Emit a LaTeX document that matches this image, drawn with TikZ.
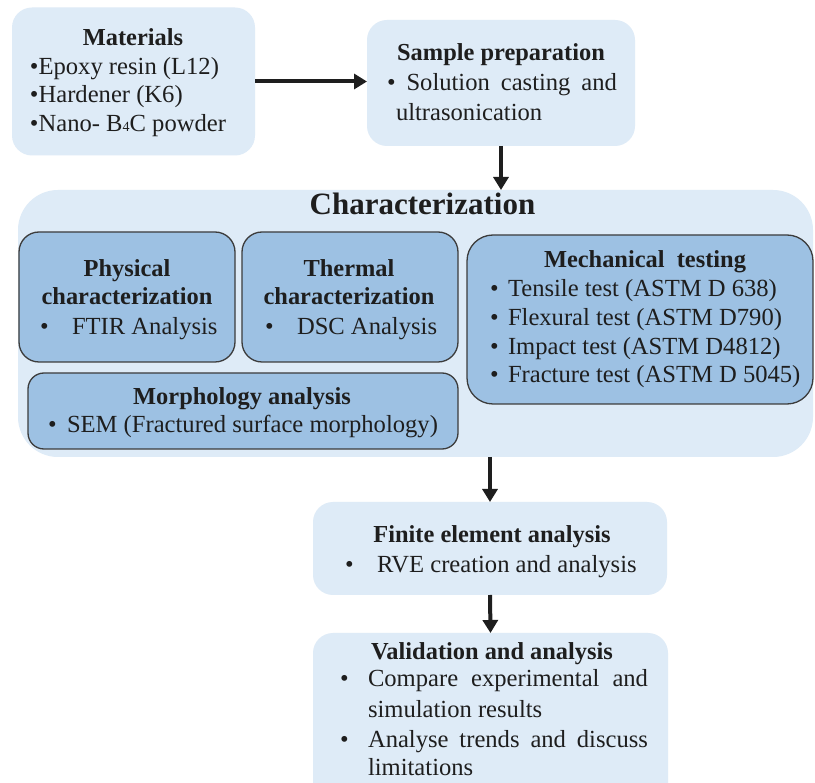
\documentclass[tikz,border=0pt]{standalone}
\usepackage{fontspec}
\setmainfont{Liberation Serif}
\usetikzlibrary{arrows.meta}
\definecolor{lightbox}{HTML}{DEEBF7}
\definecolor{midbox}{HTML}{9DC1E3}
\definecolor{edgegray}{HTML}{3C3C3C}
\definecolor{ink}{HTML}{1E1E1E}
\tikzset{
  outerbox/.style={fill=lightbox, draw=none, rounded corners=20pt, inner sep=0pt, outer sep=0pt},
  innerbox/.style={fill=midbox, draw=edgegray, line width=1.3pt, rounded corners=20pt, inner sep=0pt, outer sep=0pt},
  txt/.style={inner sep=0pt, outer sep=0pt, text=ink, font=\fontsize{24.6}{28}\selectfont, anchor=base west},
  ttl/.style={inner sep=0pt, outer sep=0pt, text=ink, font=\fontsize{24.4}{28}\selectfont\bfseries, anchor=base},
  flow/.style={line width=4pt, draw=ink, -{Triangle[length=13pt,width=15pt]}}
}
\begin{document}
\begin{tikzpicture}[x=1pt,y=-1pt]
\clip (0,0) rectangle (815,783);
\fill[white] (0,0) rectangle (815,783);

% boxes
\node[outerbox, minimum width=243pt, minimum height=148pt] (mat) at (133.5,81.5) {};
\node[outerbox, minimum width=268pt, minimum height=126pt] (sp) at (501,83) {};
\node[outerbox, rounded corners=40pt, minimum width=795pt, minimum height=267pt] (ch) at (415.5,323.5) {};
\node[innerbox, minimum width=216pt, minimum height=130pt] (phy) at (127,297) {};
\node[innerbox, minimum width=216pt, minimum height=130pt] (the) at (350,297) {};
\node[innerbox, rounded corners=26pt, minimum width=346pt, minimum height=169pt] (mech) at (640,319.5) {};
\node[innerbox, rounded corners=16pt, minimum width=430pt, minimum height=76pt] (mor) at (243,411) {};
\node[outerbox, minimum width=354pt, minimum height=93pt] (fea) at (490,548.5) {};
\node[outerbox, minimum width=355pt, minimum height=170pt] (val) at (490.5,718) {};

% connectors
\draw[flow] (mat.east) -- (mat.east -| sp.west);
\draw[flow] (sp.south) -- (sp.south |- ch.north);
\draw[flow] (fea.north |- ch.south) -- (fea.north);
\draw[flow] (fea.south) -- (val.north);

% Materials
\node[ttl] (matT) at (133,46) {Materials};
\node[txt] (mat1) at (30,75) {•Epoxy resin (L12)};
\node[txt] (mat2) at (30,103) {•Hardener (K6)};
\node[txt] (mat3) at (30,132) {•Nano- B{\fontsize{14}{14}\selectfont 4}C powder};

% Sample preparation
\node[ttl] (spT) at (501,61) {Sample preparation};
\node[txt] (sp1) at (387,91) {\makebox[230pt][s]{• Solution casting and}};
\node[txt] (sp2) at (396,121) {ultrasonication};

% Characterization
\node[ttl, font=\fontsize{31}{31}\selectfont\bfseries] (chT) at (422.5,215) {Characterization};

\node[ttl] (phyT1) at (127,277) {Physical};
\node[ttl] (phyT2) at (127,305) {characterization};
\node[txt] (phyB) at (40,335) {•};
\node[txt] (phy1) at (72,335) {FTIR Analysis};

\node[ttl] (theT1) at (349,277) {Thermal};
\node[ttl] (theT2) at (349,305) {characterization};
\node[txt] (theB) at (265,335) {•};
\node[txt] (the1) at (297,335) {DSC Analysis};

\node[ttl] (mechT) at (645,268) {Mechanical\ \ testing};
\node[txt] (mb1) at (490,297) {•};
\node[txt] (m1) at (508,297) {Tensile test (ASTM D 638)};
\node[txt] (mb2) at (490,326) {•};
\node[txt] (m2) at (508,326) {Flexural test (ASTM D790)};
\node[txt] (mb3) at (490,355) {•};
\node[txt] (m3) at (508,355) {Impact test (ASTM D4812)};
\node[txt] (mb4) at (490,383) {•};
\node[txt] (m4) at (508,383) {Fracture test (ASTM D 5045)};

\node[ttl] (morT) at (242,405) {Morphology analysis};
\node[txt] (morB) at (48,433) {•};
\node[txt] (mor1) at (67,433) {SEM (Fractured surface morphology)};

% Finite element analysis
\node[ttl] (feaT) at (492,543) {Finite element analysis};
\node[txt] (feaB) at (345,573) {•};
\node[txt] (fea1) at (377,573) {RVE creation and analysis};

% Validation
\node[ttl] (valT) at (492,660) {Validation and analysis};
\node[txt] (vb1) at (340,687) {•};
\node[txt] (v1) at (368,687) {\makebox[280pt][s]{Compare experimental and}};
\node[txt] (v2) at (368,717) {simulation results};
\node[txt] (vb2) at (340,747) {•};
\node[txt] (v3) at (368,747) {\makebox[280pt][s]{Analyse trends and discuss}};
\node[txt] (v4) at (368,775) {limitations};
\end{tikzpicture}
\end{document}
